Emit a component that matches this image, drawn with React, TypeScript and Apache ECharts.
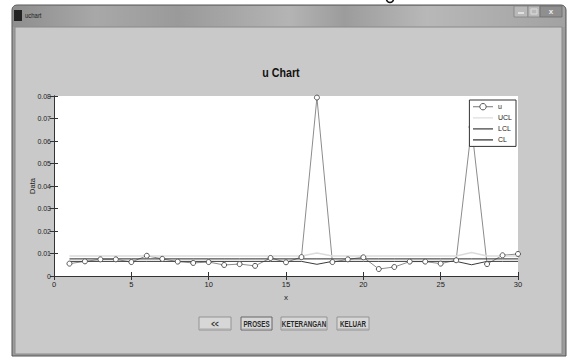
import React, { useEffect, useRef } from 'react';
import * as echarts from 'echarts';

const xValues = [1, 2, 3, 4, 5, 6, 7, 8, 9, 10, 11, 12, 13, 14, 15, 16, 17, 18, 19, 20, 21, 22, 23, 24, 25, 26, 27, 28, 29, 30];
const uValues = [0.0055, 0.0065, 0.0074, 0.0074, 0.0062, 0.009, 0.0076, 0.0064, 0.0058, 0.0062, 0.0049, 0.0053, 0.0045, 0.008, 0.0061, 0.0084, 0.0793, 0.0062, 0.0074, 0.0083, 0.0031, 0.004, 0.0064, 0.0064, 0.0055, 0.007, 0.0662, 0.0053, 0.0092, 0.0098];
const uclValues = [0.0089, 0.0089, 0.0089, 0.0089, 0.0089, 0.0089, 0.0089, 0.0089, 0.0089, 0.0089, 0.0089, 0.0089, 0.0089, 0.0089, 0.0089, 0.0089, 0.0102, 0.0089, 0.0089, 0.0089, 0.0089, 0.0089, 0.0089, 0.0089, 0.0089, 0.0089, 0.0104, 0.0089, 0.0089, 0.0089];
const lclValues = [0.0065, 0.0065, 0.0065, 0.0065, 0.0065, 0.0065, 0.0065, 0.0065, 0.0065, 0.0065, 0.0065, 0.0065, 0.0065, 0.0065, 0.0065, 0.0065, 0.0052, 0.0065, 0.0065, 0.0065, 0.0065, 0.0065, 0.0065, 0.0065, 0.0065, 0.0065, 0.005, 0.0065, 0.0065, 0.0065];
const clValues = [0.0076, 0.0076, 0.0076, 0.0076, 0.0076, 0.0076, 0.0076, 0.0076, 0.0076, 0.0076, 0.0076, 0.0076, 0.0076, 0.0076, 0.0076, 0.0076, 0.0076, 0.0076, 0.0076, 0.0076, 0.0076, 0.0076, 0.0076, 0.0076, 0.0076, 0.0076, 0.0076, 0.0076, 0.0076, 0.0076];
const seriesNames = ['u', 'UCL', 'LCL', 'CL'];
const buttonLabels = ['<<', 'PROSES', 'KETERANGAN', 'KELUAR'];
const windowTitle = 'uchart';
const chartTitle = 'u Chart';

const SANS = "'Liberation Sans', Arial, sans-serif";

export default function App() {
  const ref = useRef<HTMLDivElement>(null);
  useEffect(() => {
    const chart = echarts.init(ref.current!, null, { renderer: 'svg' });
    const pairs = (vals: number[]) => xValues.map((x, i) => [x, vals[i]]);
    const btnBoxes = [
      [199, 317, 32, 13],
      [241, 317, 31, 13],
      [281, 317, 46, 13],
      [337, 317, 32, 13],
    ];
    const buttons = buttonLabels.map((label, i) => {
      const [x, y, w, h] = btnBoxes[i];
      return {
        type: 'group',
        z: -5,
        children: [
          { type: 'rect', shape: { x, y, width: w, height: h }, style: { fill: '#d7d7d7', stroke: i === 1 ? '#666' : '#939393', lineWidth: 1 }, z: -5 },
          { type: 'line', shape: { x1: x + 1, y1: y + h - 1, x2: x + w - 1, y2: y + h - 1 }, style: { stroke: '#a8a8a8', lineWidth: 1 }, z: -5 },
          {
            type: 'text', x: x + w / 2, y: y + h / 2 + 0.5, z: -4, scaleX: 0.74,
            style: { text: label, fontSize: 8.5, fontWeight: 'bold', fontFamily: SANS, fill: '#2a2a2a', align: 'center', verticalAlign: 'middle' },
          },
        ],
      };
    });
    const axisCommon = {
      axisLine: { show: true, lineStyle: { color: '#333', width: 1 } },
      axisTick: { show: true, inside: true, length: 4, lineStyle: { color: '#333' } },
      splitLine: { show: false },
    };
    const noSymbol = { itemStyle: { opacity: 0 } };
    chart.setOption({
      animation: false,
      backgroundColor: '#ffffff',
      grid: { left: 54, right: 50, top: 96, bottom: 82, show: true, backgroundColor: '#ffffff', borderWidth: 0 },
      legend: {
        data: [
          { name: seriesNames[0], itemStyle: { color: '#ffffff', borderColor: '#555555', borderWidth: 1 } },
          { name: seriesNames[1], ...noSymbol },
          { name: seriesNames[2], ...noSymbol },
          { name: seriesNames[3], ...noSymbol },
        ],
        orient: 'vertical', right: 52, top: 100,
        backgroundColor: '#ffffff', borderColor: '#333', borderWidth: 1,
        padding: [3, 4, 3, 3], itemGap: 4, itemWidth: 20, itemHeight: 8,
        lineStyle: { width: 1.2 },
        textStyle: { fontSize: 7, fontFamily: SANS, color: '#222' },
      },
      xAxis: [
        {
          type: 'value', min: 0, max: 30, interval: 5, position: 'bottom', ...axisCommon,
          axisLabel: { fontSize: 7.5, fontFamily: SANS, color: '#222', margin: 4 },
          name: 'x', nameLocation: 'middle', nameGap: 17, nameMoveOverlap: false,
          nameTextStyle: { fontSize: 8, fontFamily: SANS, color: '#222' },
        },
        { type: 'value', min: 0, max: 30, interval: 5, position: 'top', ...axisCommon, axisLabel: { show: false } },
      ],
      yAxis: [
        {
          type: 'value', min: 0, max: 0.08, interval: 0.01, position: 'left', ...axisCommon,
          axisLabel: { fontSize: 7, fontFamily: SANS, color: '#222', margin: 3, formatter: (v: number) => (v === 0 ? '0' : v.toFixed(2)) },
          name: 'Data', nameLocation: 'middle', nameGap: 18, nameMoveOverlap: false,
          nameTextStyle: { fontSize: 7.5, fontFamily: SANS, color: '#222' },
        },
        { type: 'value', min: 0, max: 0.08, interval: 0.01, position: 'right', ...axisCommon, axisLabel: { show: false } },
      ],
      series: [
        {
          name: 'u', type: 'line', data: pairs(uValues), symbol: 'circle', symbolSize: 5,
          lineStyle: { color: '#8c8c8c', width: 1 },
          itemStyle: { color: '#ffffff', borderColor: '#555555', borderWidth: 1 },
        },
        { name: 'UCL', type: 'line', data: pairs(uclValues), symbol: 'none', lineStyle: { color: '#dcdcdc', width: 1.5 }, itemStyle: { color: '#dcdcdc' } },
        { name: 'LCL', type: 'line', data: pairs(lclValues), symbol: 'none', lineStyle: { color: '#3a3a3a', width: 1 }, itemStyle: { color: '#3a3a3a' } },
        { name: 'CL', type: 'line', data: pairs(clValues), symbol: 'none', lineStyle: { color: '#2a2a2a', width: 1 }, itemStyle: { color: '#2a2a2a' } },
      ],
      graphic: [
        { type: 'arc', z: -10, shape: { cx: 390, cy: -1, r: 3.5, startAngle: 0, endAngle: Math.PI }, style: { stroke: '#111', lineWidth: 1.6, fill: 'none' } },
        { type: 'rect', z: -10, shape: { x: 12, y: 5, width: 554, height: 351, r: [5, 5, 0, 0] }, style: { fill: '#9c9c9c', stroke: '#555', lineWidth: 1 } },
        {
          type: 'rect', z: -9, shape: { x: 13, y: 6, width: 552, height: 21, r: [4, 4, 0, 0] },
          style: {
            fill: new echarts.graphic.LinearGradient(0, 0, 1, 0, [
              { offset: 0, color: '#8e8e8e' },
              { offset: 0.15, color: '#a8a8a8' },
              { offset: 0.3, color: '#9a9a9a' },
              { offset: 0.5, color: '#b4b4b4' },
              { offset: 0.6, color: '#9c9c9c' },
              { offset: 0.75, color: '#b8b8b8' },
              { offset: 1, color: '#a2a2a2' },
            ]),
          },
        },
        { type: 'rect', z: -8, shape: { x: 15, y: 27, width: 547, height: 327 }, style: { fill: '#c9c9c9', stroke: '#8a8a8a', lineWidth: 1 } },
        { type: 'rect', z: -8, shape: { x: 14, y: 10, width: 8, height: 11 }, style: { fill: '#222' } },
        { type: 'text', z: -8, x: 25, y: 15.5, scaleX: 0.85, style: { text: windowTitle, fontSize: 7, fontFamily: SANS, fill: '#222', verticalAlign: 'middle' } },
        { type: 'rect', z: -8, shape: { x: 514, y: 6, width: 14, height: 11 }, style: { fill: '#b9b9b9', stroke: '#808080', lineWidth: 0.8 } },
        { type: 'rect', z: -8, shape: { x: 528, y: 6, width: 12, height: 11 }, style: { fill: '#b9b9b9', stroke: '#808080', lineWidth: 0.8 } },
        { type: 'rect', z: -8, shape: { x: 540, y: 6, width: 22, height: 11 }, style: { fill: '#8f8f8f', stroke: '#6a6a6a', lineWidth: 0.8 } },
        { type: 'line', z: -7, shape: { x1: 518, y1: 13, x2: 524, y2: 13 }, style: { stroke: '#eee', lineWidth: 1.5 } },
        { type: 'rect', z: -7, shape: { x: 531, y: 9, width: 6, height: 5 }, style: { fill: 'none', stroke: '#ddd', lineWidth: 1 } },
        { type: 'text', z: -7, x: 551, y: 11.5, style: { text: 'x', fontSize: 8, fontWeight: 'bold', fontFamily: SANS, fill: '#eee', align: 'center', verticalAlign: 'middle' } },
        { type: 'text', z: 5, x: 281, y: 73, scaleX: 0.82, style: { text: chartTitle, fontSize: 13, fontWeight: 'bold', fontFamily: SANS, fill: '#111', align: 'center', verticalAlign: 'middle' } },
        ...buttons,
      ],
    });
    return () => chart.dispose();
  }, []);
  return <div ref={ref} style={{ position: 'fixed', left: 0, top: 0, width: 568, height: 358 }} />;
}
